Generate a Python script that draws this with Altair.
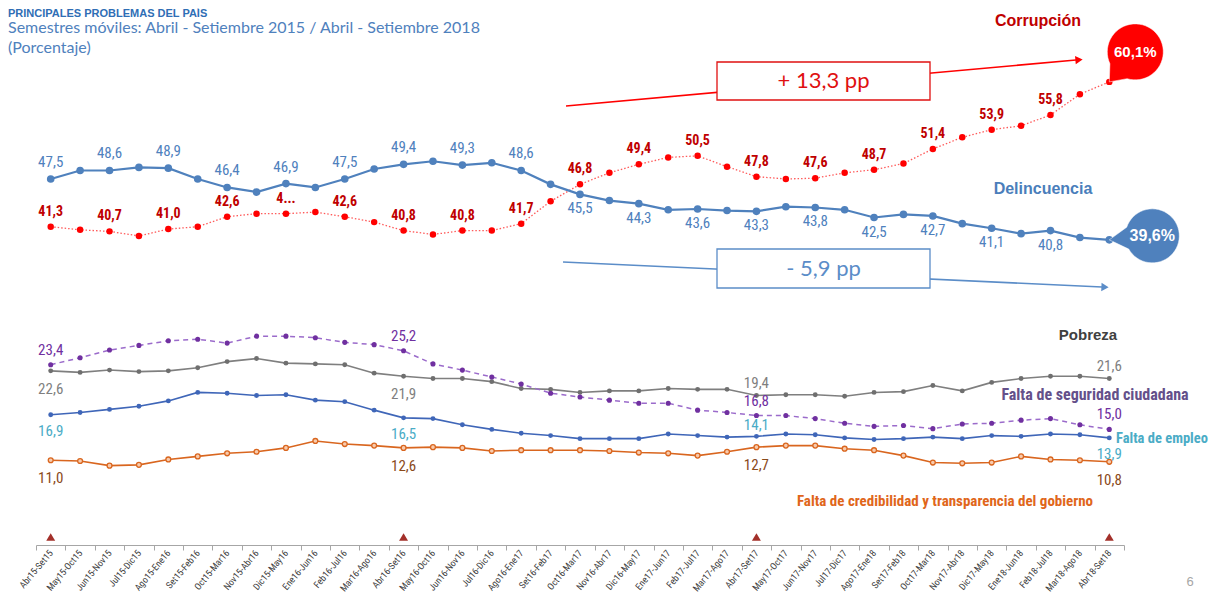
import math
import altair as alt
import pandas as pd

# ---------------- data ----------------
periodos = ["Abr15-Set15", "May15-Oct15", "Jun15-Nov15", "Jul15-Dic15", "Ago15-Ene16",
            "Set15-Feb16", "Oct15-Mar16", "Nov15-Abr16", "Dic15-May16", "Ene16-Jun16",
            "Feb16-Jul16", "Mar16-Ago16", "Abr16-Set16", "May16-Oct16", "Jun16-Nov16",
            "Jul16-Dic16", "Ago16-Ene17", "Set16-Feb17", "Oct16-Mar17", "Nov16-Abr17",
            "Dic16-May17", "Ene17-Jun17", "Feb17-Jul17", "Mar17-Ago17", "Abr17-Set17",
            "May17-Oct17", "Jun17-Nov17", "Jul17-Dic17", "Ago17-Ene18", "Set17-Feb18",
            "Oct17-Mar18", "Nov17-Abr18", "Dic17-May18", "Ene18-Jun18", "Feb18-Jul18",
            "Mar18-Ago18", "Abr18-Set18"]

corrupcion = [41.3, 40.9, 40.7, 40.1, 41.0, 41.3, 42.6, 43.0, 43.0, 43.2, 42.6, 41.9, 40.8,
              40.3, 40.8, 40.8, 41.7, 44.6, 46.8, 48.3, 49.4, 50.3, 50.5, 49.1, 47.8,
              47.5, 47.6, 48.3, 48.7, 49.5, 51.4, 52.9, 53.9, 54.4, 55.8, 58.5, 60.1]
delincuencia = [47.5, 48.6, 48.6, 49.0, 48.9, 47.5, 46.4, 45.8, 46.9, 46.4, 47.5, 48.8, 49.4,
                49.8, 49.3, 49.6, 48.6, 46.8, 45.5, 44.7, 44.3, 43.5, 43.6, 43.4, 43.3,
                43.9, 43.8, 43.5, 42.5, 42.9, 42.7, 41.7, 41.1, 40.4, 40.8, 39.9, 39.6]
pobreza = [22.6, 22.4, 22.7, 22.5, 22.6, 23.0, 23.8, 24.2, 23.6, 23.5, 23.4, 22.3, 21.9,
           21.6, 21.6, 21.2, 20.3, 20.2, 19.8, 20.0, 20.0, 20.3, 20.2, 20.2, 19.4,
           19.5, 19.5, 19.3, 19.8, 19.9, 20.7, 20.0, 21.1, 21.6, 21.9, 21.9, 21.6]
seguridad = [23.4, 24.3, 25.3, 25.9, 26.5, 26.7, 26.2, 27.1, 27.1, 26.9, 26.3, 26.0, 25.2,
             23.5, 22.7, 21.8, 20.9, 19.7, 19.2, 18.8, 18.4, 18.4, 17.5, 17.2, 16.8,
             16.8, 16.4, 15.8, 15.4, 15.5, 15.1, 15.7, 15.8, 16.2, 16.4, 15.6, 15.0]
empleo = [16.9, 17.2, 17.6, 18.0, 18.7, 19.8, 19.7, 19.4, 19.5, 18.8, 18.6, 17.5, 16.5,
          16.4, 15.6, 15.0, 14.5, 14.2, 13.8, 13.8, 13.8, 14.4, 14.2, 14.0, 14.1,
          14.4, 14.3, 13.9, 13.7, 13.8, 14.0, 13.8, 14.2, 14.1, 14.4, 14.3, 13.9]
credibilidad = [11.0, 10.9, 10.3, 10.4, 11.1, 11.5, 11.9, 12.1, 12.6, 13.5, 13.1, 12.9, 12.6,
                12.7, 12.6, 12.2, 12.3, 12.3, 12.3, 12.2, 12.0, 11.9, 11.6, 12.1, 12.7,
                12.9, 12.9, 12.5, 12.3, 11.6, 10.7, 10.6, 10.7, 11.5, 11.1, 11.0, 10.8]

# indices that carry a data label: (index, "above"/"below")
lab_corr = [(i, "above") for i in range(0, 36, 2)]
lab_delin = [(i, "above") for i in range(0, 17, 2)] + [(i, "below") for i in range(18, 36, 2)]
hitos = [0, 12, 24, 36]
lab_pob = [(0, "below"), (12, "below"), (24, "above"), (36, "above")]
lab_seg = [(0, "above"), (12, "above"), (24, "above"), (36, "above")]
lab_emp = [(0, "below"), (12, "below"), (24, "above"), (36, "below")]
lab_cred = [(0, "below"), (12, "below"), (24, "below"), (36, "below")]
texto_truncado = {("Corrupción", 8): "4..."}

series = {
    "Corrupción": corrupcion,
    "Delincuencia": delincuencia,
    "Pobreza": pobreza,
    "Falta de seguridad ciudadana": seguridad,
    "Falta de empleo": empleo,
    "Falta de credibilidad y transparencia del gobierno": credibilidad,
}
etiquetas = {
    "Corrupción": lab_corr,
    "Delincuencia": lab_delin,
    "Pobreza": lab_pob,
    "Falta de seguridad ciudadana": lab_seg,
    "Falta de empleo": lab_emp,
    "Falta de credibilidad y transparencia del gobierno": lab_cred,
}


def fmt(v):
    return f"{v:.1f}".replace(".", ",")


rows = []
for s, vals in series.items():
    for p, v in zip(periodos, vals):
        rows.append({"periodo": p, "serie": s, "valor": v})
df = pd.DataFrame(rows)

lrows = []
for s, specs in etiquetas.items():
    for i, pos in specs:
        v = series[s][i]
        lrows.append({"periodo": periodos[i], "serie": s, "valor": v, "pos": pos,
                      "texto": texto_truncado.get((s, i), fmt(v))})
dfl = pd.DataFrame(lrows)

df_hitos = pd.DataFrame({"periodo": [periodos[i] for i in hitos]})
df_last = pd.DataFrame({
    "periodo": [periodos[-1], periodos[-1]],
    "serie": ["Corrupción", "Delincuencia"],
    "valor": [corrupcion[-1], delincuencia[-1]],
    "texto": [fmt(corrupcion[-1]) + "%", fmt(delincuencia[-1]) + "%"],
})
one = pd.DataFrame({"k": [0]})

# ---------------- layout / style ----------------
W, H = 1088, 524
YMAX = 68
NARROW = "Liberation Sans Narrow, Arial Narrow, Roboto Condensed, Liberation Sans, sans-serif"
SANS = "Liberation Sans, Arial, sans-serif"
SOFT = "Lato, Open Sans, sans-serif"

x_enc = alt.X(
    "periodo:N", sort=periodos,
    scale=alt.Scale(type="band", paddingInner=0, paddingOuter=0),
    axis=alt.Axis(title=None, labelAngle=-50, labelFontSize=9.5, labelColor="#404040",
                  labelFont=NARROW, tickBand="extent", tickSize=5, tickColor="#A6A6A6",
                  domainColor="#A6A6A6", labelOverlap=False, grid=False, labelPadding=1),
)
y_enc = alt.Y("valor:Q", scale=alt.Scale(domain=[0, YMAX], nice=False, zero=True), axis=None)


def serie_data(s):
    return alt.Chart(df).transform_filter(alt.datum.serie == s)


def lab_data(s, pos):
    return alt.Chart(dfl).transform_filter((alt.datum.serie == s) & (alt.datum.pos == pos))


layers = []

# ---- arrows + boxes (behind) ----
def arrow(x1, y1, x2, y2, color, ang):
    r = alt.Chart(one).mark_rule(color=color, strokeWidth=1.6).encode(
        x=alt.value(x1), y=alt.value(y1), x2=alt.value(x2), y2=alt.value(y2))
    head = alt.Chart(one).mark_point(shape="triangle-right", filled=True, color=color,
                                     size=70, opacity=1, angle=ang).encode(
        x=alt.value(x2 + 3), y=alt.value(y2 + (y2 - y1) * 3 / max(1, (x2 - x1))))
    return [r, head]


def caja(x1, y1, x2, y2, color, texto):
    rect = alt.Chart(one).mark_rect(fill="white", stroke=color, strokeWidth=1.3).encode(
        x=alt.value(x1), x2=alt.value(x2), y=alt.value(y1), y2=alt.value(y2))
    t = alt.Chart(one).mark_text(fontSize=22, font=SOFT, color=color).encode(
        x=alt.value((x1 + x2) / 2), y=alt.value((y1 + y2) / 2), text=alt.value(texto))
    return [rect, t]


layers += arrow(530, 85, 1040, 39, "#FF0000", 354.8)
layers += caja(681, 41, 894, 79, "#E01010", "+ 13,3 pp")
layers += arrow(527, 241, 1066, 266, "#5B8DC8", 2.7)
layers += caja(681, 228, 894, 267, "#5B8DC8", "- 5,9 pp")

# ---- lines & points ----
estilos = {
    "Corrupción": dict(line=dict(color="#FF5A5A", strokeWidth=1.3, strokeDash=[1.5, 2]),
                       pt=dict(color="#FF0000", size=42)),
    "Delincuencia": dict(line=dict(color="#4F81BD", strokeWidth=2.2),
                         pt=dict(color="#4F81BD", size=58)),
    "Pobreza": dict(line=dict(color="#7F7F7F", strokeWidth=1.6),
                    pt=dict(color="#6F6F6F", size=24)),
    "Falta de seguridad ciudadana": dict(line=dict(color="#9B6BCB", strokeWidth=1.5, strokeDash=[5, 4]),
                                         pt=dict(color="#7030A0", size=26)),
    "Falta de empleo": dict(line=dict(color="#3F66B8", strokeWidth=1.6),
                            pt=dict(color="#3F66B8", size=24)),
    "Falta de credibilidad y transparencia del gobierno": dict(
        line=dict(color="#D9661F", strokeWidth=1.6), pt=None),
}
for s, st in estilos.items():
    layers.append(serie_data(s).mark_line(**st["line"]).encode(x=x_enc, y=y_enc))
    if st["pt"] is not None:
        layers.append(serie_data(s).mark_circle(opacity=1, **st["pt"]).encode(x=x_enc, y=y_enc))
    else:
        layers.append(serie_data(s).mark_point(filled=True, fill="#F8CBAD", stroke="#D9661F",
                                               strokeWidth=1.3, size=24, opacity=1).encode(x=x_enc, y=y_enc))

# ---- data labels ----
lab_style = {
    ("Corrupción", "above"): dict(color="#C00000", fontWeight="bold", fontSize=14, dy=-15),
    ("Delincuencia", "above"): dict(color="#4F81BD", fontSize=15, dy=-17),
    ("Delincuencia", "below"): dict(color="#4F81BD", fontSize=15, dy=14),
    ("Pobreza", "below"): dict(color="#7F7F7F", fontSize=15, dy=18),
    ("Pobreza", "above"): dict(color="#7F7F7F", fontSize=15, dy=-13),
    ("Falta de seguridad ciudadana", "above"): dict(color="#7030A0", fontSize=15, dy=-15),
    ("Falta de empleo", "below"): dict(color="#4BACC6", fontSize=15, dy=16),
    ("Falta de empleo", "above"): dict(color="#4BACC6", fontSize=15, dy=-11),
    ("Falta de credibilidad y transparencia del gobierno", "below"): dict(color="#8A4A1A", fontSize=15, dy=18),
}
for (s, pos), st in lab_style.items():
    layers.append(lab_data(s, pos).mark_text(font=NARROW, **st).encode(
        x=x_enc, y=y_enc, text="texto:N"))

# ---- end bubbles ----
def burbuja(cx, cy, r, half_deg, n=48):
    ang_tip = math.degrees(math.atan2(-cy, -cx))
    a1 = math.radians(ang_tip + half_deg)
    a2 = math.radians(ang_tip - half_deg + 360)
    pts = ["M0,0"]
    for k in range(n + 1):
        a = a1 + (a2 - a1) * k / n
        pts.append(f"L{(cx + r * math.cos(a)) / 10:.3f},{(cy + r * math.sin(a)) / 10:.3f}")
    return " ".join(pts) + " Z"


bub = {
    "Corrupción": dict(c=(26, -30), r=28, color="#FF0000", fs=15),
    "Delincuencia": dict(c=(43, -4), r=27, color="#4F81BD", fs=16),
}
for s, b in bub.items():
    path = burbuja(b["c"][0], b["c"][1], b["r"], 24)
    d = alt.Chart(df_last).transform_filter(alt.datum.serie == s)
    layers.append(d.mark_point(shape=path, filled=True, color=b["color"], size=400, opacity=1,
                               stroke="white", strokeWidth=0.5).encode(x=x_enc, y=y_enc))
    layers.append(d.mark_text(color="white", fontWeight="bold", fontSize=b["fs"], font=SANS,
                              dx=b["c"][0], dy=b["c"][1]).encode(x=x_enc, y=y_enc, text="texto:N"))

# ---- markers on axis ----
layers.append(alt.Chart(df_hitos).mark_point(shape="triangle-up", filled=True, color="#A3302A",
                                             size=80, opacity=1).encode(x=x_enc, y=alt.value(516)))

# ---- series names ----
def nombre(texto, x, y, color, fs, align="center", font=SANS):
    return alt.Chart(one).mark_text(color=color, fontSize=fs, fontWeight="bold", align=align,
                                    font=font).encode(x=alt.value(x), y=alt.value(y), text=alt.value(texto))


layers.append(nombre("Corrupción", 1002, 0, "#C00000", 16))
layers.append(nombre("Delincuencia", 1007, 168, "#4A7EBB", 16))
layers.append(nombre("Pobreza", 1052, 314, "#404040", 15))
layers.append(nombre("Falta de seguridad ciudadana", 1059, 374, "#64508A", 16, font=NARROW))
layers.append(nombre("Falta de empleo", 1080, 418, "#4BACC6", 14.5, align="left", font=NARROW))
layers.append(nombre("Falta de credibilidad y transparencia del gobierno", 909, 480, "#E0661A", 15, font=NARROW))

# ---- titles ----
layers.append(alt.Chart(one).mark_text(align="left", baseline="top", fontSize=11, fontWeight="bold",
                                       font=SANS, color="#2F6EB5").encode(
    x=alt.value(-28), y=alt.value(-13), text=alt.value("PRINCIPALES PROBLEMAS DEL PAÍS")))
layers.append(alt.Chart(one).mark_text(align="left", baseline="middle", fontSize=16, font=SOFT,
                                       color="#4F81BD").encode(
    x=alt.value(-28), y=alt.value(7),
    text=alt.value("Semestres móviles: Abril - Setiembre 2015 / Abril - Setiembre 2018")))
layers.append(alt.Chart(one).mark_text(align="left", baseline="middle", fontSize=16, font=SOFT,
                                       color="#4F81BD").encode(
    x=alt.value(-28), y=alt.value(27), text=alt.value("(Porcentaje)")))
layers.append(alt.Chart(one).mark_text(fontSize=13, font=SANS, color="#A6A6A6").encode(
    x=alt.value(1154), y=alt.value(561), text=alt.value("6")))

chart = alt.layer(*layers).properties(
    width=W, height=H,
    autosize=alt.AutoSizeParams(type="none"),
    padding={"left": 28, "top": 13, "right": 87, "bottom": 48},
    background="white",
).configure_view(stroke=None)

chart.save("out.html", embed_options={"renderer": "svg", "actions": False})
